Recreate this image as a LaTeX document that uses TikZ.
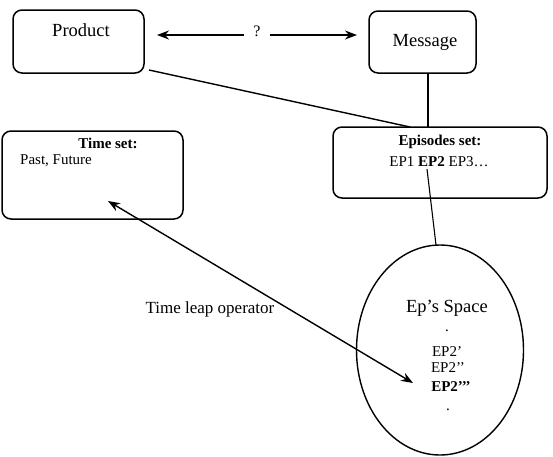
\documentclass[tikz,border=0pt]{standalone}
\usepackage{fontspec}
\setmainfont{Liberation Serif}
\usetikzlibrary{arrows.meta}
\tikzset{
  box/.style={draw, line width=1.5pt, rounded corners=9pt},
  conn/.style={line width=1.4pt},
  arr/.style={line width=1.4pt, {Stealth[length=12pt,width=9pt]}-{Stealth[length=12pt,width=9pt]}},
  big/.style={font=\fontsize{18.5}{20}\selectfont, inner sep=0pt},
  mid/.style={font=\fontsize{15}{17}\selectfont, inner sep=0pt},
  midb/.style={font=\fontsize{15}{17}\selectfont\bfseries, inner sep=0pt},
}
\begin{document}
\begin{tikzpicture}[x=1pt,y=-1pt]
\useasboundingbox (0,0) rectangle (553,456);
% boxes
\draw[box] (13,10) rectangle (144,73);
\node[big] (product) at (81,30) {Product};
\draw[box] (369,11) rectangle (476,73);
\node[big] (message) at (425,42) {Message};
\coordinate (prodbr) at (149,70);
\coordinate (msgb) at (428,73);
\draw[box] (2,131) rectangle (183,219);
\node[midb] (timeset) at (108,143) {Time set:};
\node[mid, anchor=west] (pastfut) at (20,161) {Past, Future};
\draw[box] (333,127) rectangle (547,198);
\node[midb] (epset) at (440,142) {Episodes set:};
\node[mid] (eplist) at (439,162) {EP1 \textbf{EP2} EP3…};
\coordinate (eptopL) at (410,127);
\coordinate (eptopM) at (428,127);
\coordinate (ep2) at (427,169);
% ellipse
\draw[conn] (440,350) ellipse [x radius=83.5, y radius=105];
\coordinate (elltop) at (436,245);
\node[big] (space) at (447,308) {Ep’s Space};
\node[mid] (d1) at (447,331) {.};
\node[mid] (e1) at (447,352) {EP2’};
\node[mid] (e2) at (448,368) {EP2’{}’};
\node[midb] (e3) at (451,387) {EP2’{}’{}’};
\node[mid] (d2) at (448,410) {.};
\node[font=\fontsize{17}{19}\selectfont, inner sep=0pt] (tlo) at (210,309) {Time leap operator};
% connectors
\coordinate (qa) at (157,35);
\coordinate (qb) at (357,35);
\draw[arr] (qa) -- (qb) node[midway, fill=white, inner xsep=9pt, inner ysep=2pt, yshift=4pt, font=\fontsize{16}{18}\selectfont] (q) {?};
\draw[conn] (prodbr) -- (eptopL);
\draw[conn] (msgb) -- (eptopM);
\draw[conn, line width=1.1pt] (ep2) -- (elltop);
\coordinate (ta) at (108,201);
\coordinate (tb) at (413,383);
\draw[arr] (ta) -- (tb);
\end{tikzpicture}
\end{document}
